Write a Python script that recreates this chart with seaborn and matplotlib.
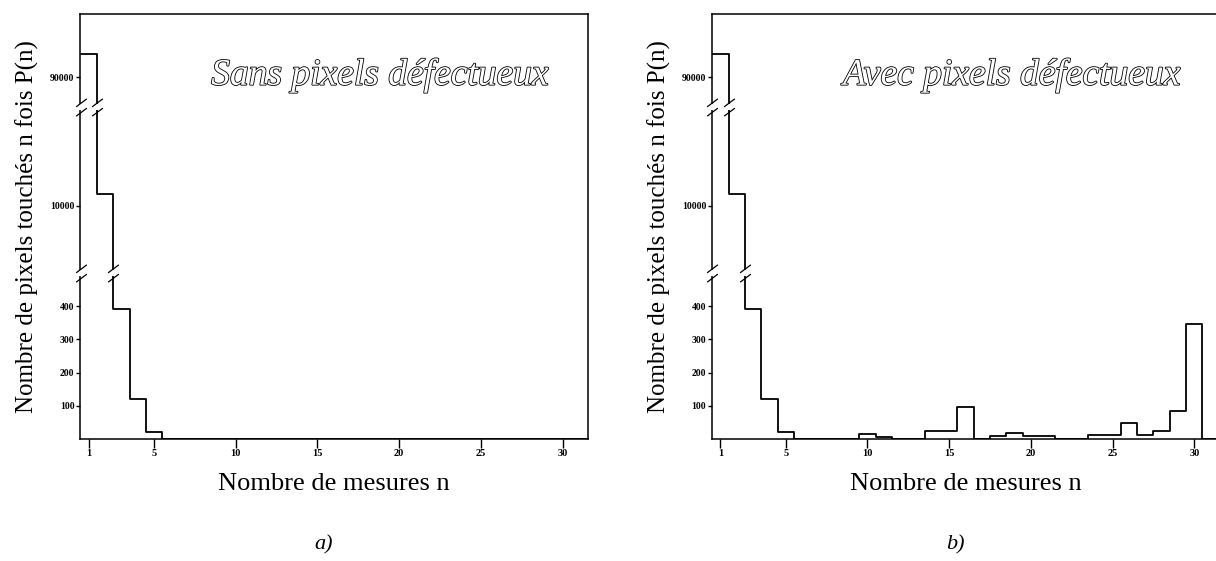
import numpy as np
import matplotlib
matplotlib.use("Agg")
import matplotlib.pyplot as plt
import matplotlib.patheffects as pe
from matplotlib.path import Path
import pandas as pd
import seaborn as sns


# Nombre de mesures n (n=31 vaut 0, il sert juste a fermer le dernier baton)
n_mesures = list(range(1, 32))

# P(n) sans pixels defectueux
p_sans = [94000, 10700, 390, 120, 20, 0, 0, 0, 0, 0, 0, 0, 0, 0, 0, 0,
          0, 0, 0, 0, 0, 0, 0, 0, 0, 0, 0, 0, 0, 0, 0]
# P(n) avec pixels defectueux
p_avec = [94000, 10700, 390, 120, 20, 0, 0, 0, 0, 15, 7, 0, 0, 25, 25, 95,
          0, 8, 18, 8, 8, 0, 0, 12, 12, 48, 12, 23, 84, 347, 0]

titres = ["Sans pixels défectueux", "Avec pixels défectueux"]
lettres = ["a)", "b)"]
xticks = [1, 5, 10, 15, 20, 25, 30]
yticks = [100, 200, 300, 400, 10000, 90000]

# axe y coupe en trois morceaux : 0-500, ~6000-16000, ~85000-101000
seg_data = [0, 500, 6000, 16000, 85000, 101000]
seg_disp = [0, 166, 167, 332, 333, 425]
coupures = [500, 16000]


def fwd(y):
    return np.interp(y, seg_data, seg_disp)


def inv(d):
    return np.interp(d, seg_disp, seg_data)


sns.set_theme(style="ticks")
plt.rcParams["font.family"] = ["Liberation Serif", "DejaVu Serif"]
plt.rcParams["text.color"] = "black"
plt.rcParams["axes.labelcolor"] = "black"
plt.rcParams["xtick.color"] = "black"
plt.rcParams["ytick.color"] = "black"

fig = plt.figure(figsize=(12.16, 5.61), dpi=100)
positions = [[0.0658, 0.2175, 0.4178, 0.7576],
             [0.5853, 0.2175, 0.4178, 0.7576]]

# marque de coupure "//"
slash = Path([(-4, -6.5), (4, -0.5), (-4, 0.5), (4, 6.5)],
             [Path.MOVETO, Path.LINETO, Path.MOVETO, Path.LINETO])

for i, valeurs in enumerate([p_sans, p_avec]):
    ax = fig.add_axes(positions[i])
    df = pd.DataFrame({"n": n_mesures, "P": valeurs})
    ax.set_yscale("function", functions=(fwd, inv))
    sns.histplot(data=df, x="n", weights="P", discrete=True, element="step",
                 fill=False, color="black", linewidth=1.3, ax=ax)
    ax.set_xlim(0.47, 31.56)
    ax.set_ylim(0, 101000)
    ax.set_xticks(xticks)
    ax.set_yticks(yticks)
    ax.set_xticklabels([str(t) for t in xticks])
    ax.set_yticklabels([str(t) for t in yticks])
    ax.yaxis.set_minor_locator(matplotlib.ticker.NullLocator())
    ax.tick_params(axis="x", length=6.5, width=1, pad=0.5, labelsize=7.5)
    ax.tick_params(axis="y", length=3, width=1, pad=1, labelsize=7)
    for lab in ax.get_xticklabels() + ax.get_yticklabels():
        lab.set_fontweight("bold")
    for sp in ax.spines.values():
        sp.set_linewidth(1.1)
        sp.set_color("black")
        sp.set_visible(True)

    ax.set_xlabel("Nombre de mesures n", fontsize=19, labelpad=11)
    ax.set_ylabel("Nombre de pixels touchés n fois P(n)", fontsize=18, labelpad=8)

    # positions des coupures : bord gauche + marches qui traversent la coupure
    v = np.array(valeurs)
    for b in coupures:
        xs = [0.5]
        for k in range(1, len(v)):
            if (v[k - 1] - b) * (v[k] - b) < 0:
                xs.append(n_mesures[k] - 0.5)
        ax.plot(xs, [b] * len(xs), ls="none", marker="s", markersize=5,
                markerfacecolor="white", markeredgewidth=0, zorder=6,
                clip_on=False)
        ax.plot(xs, [b] * len(xs), ls="none", marker=slash, markersize=12.5,
                markeredgecolor="black", markeredgewidth=0.9, zorder=7,
                clip_on=False)

    ax.text(0.59, 0.856, titres[i], transform=ax.transAxes, ha="center",
            va="center", fontsize=27, style="italic", color="white",
            path_effects=[pe.withStroke(linewidth=1.2, foreground="black")])

fig.text(0.266, 0.028, lettres[0], ha="center", va="center", fontsize=16,
         style="italic")
fig.text(0.786, 0.028, lettres[1], ha="center", va="center", fontsize=16,
         style="italic")

fig.savefig("out.png", dpi=100)
